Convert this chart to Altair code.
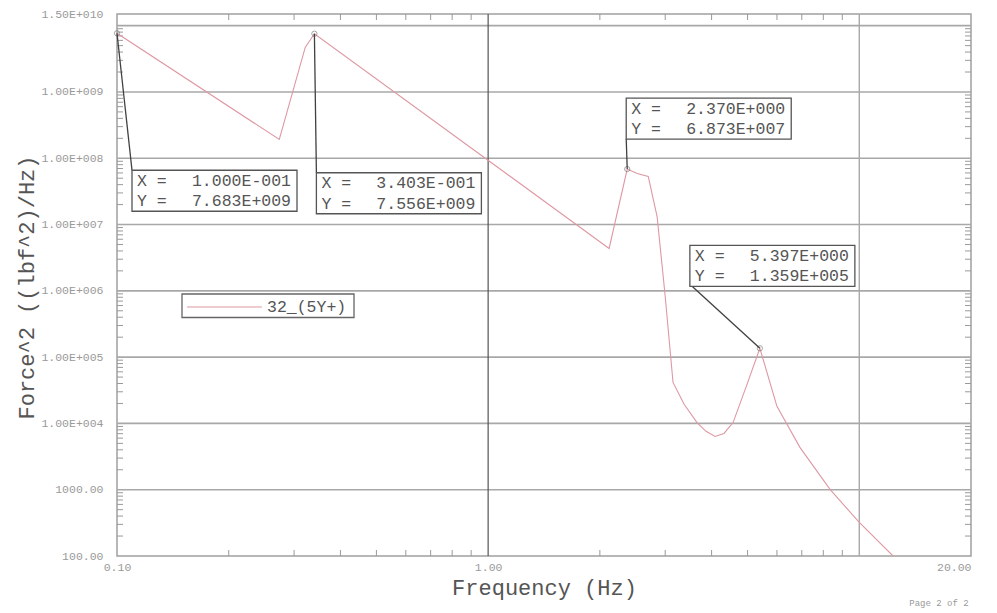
import altair as alt
import pandas as pd

# ---- data -------------------------------------------------------------
series_name = "32_(5Y+)"

freq_hz = [0.1, 0.2737, 0.3215, 0.3403, 2.118, 2.370, 2.52, 2.70, 2.853,
           3.00, 3.149, 3.373, 3.655, 3.865, 4.087, 4.32, 4.57, 4.95,
           5.397, 6.00, 6.92, 8.34, 10.0, 12.33]
force_psd = [7.683e9, 1.92e8, 4.69e9, 7.556e9, 4.36e6, 6.873e7, 5.9e7, 5.31e7, 1.32e7,
             8.2e5, 4.15e4, 1.94e4, 1.03e4, 7.6e3, 6.37e3, 7.06e3, 1.03e4, 3.49e4,
             1.359e5, 1.81e4, 4.35e3, 1.01e3, 321.0, 100.0]

peak_freq = [0.1, 0.3403, 2.370, 5.397]
peak_psd = [7.683e9, 7.556e9, 6.873e7, 1.359e5]
peak_x_text = ["1.000E-001", "3.403E-001", "2.370E+000", "5.397E+000"]
peak_y_text = ["7.683E+009", "7.556E+009", "6.873E+007", "1.359E+005"]

x_tick_values = [0.1, 1.0, 20.0]
x_tick_labels = ["0.10", "1.00", "20.00"]
y_tick_values = [100.0, 1000.0, 1e4, 1e5, 1e6, 1e7, 1e8, 1e9, 1.5e10]
y_tick_labels = ["100.00", "1000.00", "1.00E+004", "1.00E+005", "1.00E+006",
                 "1.00E+007", "1.00E+008", "1.00E+009", "1.50E+010"]

h_grid = [1e3, 1e4, 1e5, 1e6, 1e7, 1e8, 1e9, 1e10]
v_grid_major = [1.0]
v_grid_minor = [10.0]

# ---- layout / style ---------------------------------------------------
W, H = 854, 542
FONT = "Liberation Mono"
PINK = "#de98a3"
INK = "#555555"
LIGHT = "#a8a8a8"

# callout box placement, pixel offsets from the marked point:
# (box left, box top, leader end x, leader end y)
callouts = [
    (15, 137, 15, 137),
    (2, 139, 2, 139),
    (-1, -71, -1, -30),
    (-70, -103, -70, -64),
]
BOX_W, BOX_H = 165, 41

xs = alt.Scale(type="log", domain=[0.1, 20], nice=False)
ys = alt.Scale(type="log", domain=[100, 1.5e10], nice=False)


def label_expr(values, labels):
    expr = "''"
    for v, lab in reversed(list(zip(values, labels))):
        expr = f"(abs(datum.value - {v!r}) < {v * 1e-6!r} ? '{lab}' : {expr})"
    return expr


x_axis = alt.Axis(
    values=x_tick_values, labelExpr=label_expr(x_tick_values, x_tick_labels),
    grid=False, domain=False, ticks=False,
    labelFont=FONT, labelFontSize=11.5, labelColor="#9a9a9a", labelPadding=5,
    labelAlign={"condition": {"test": "datum.value > 10", "value": "right"}, "value": "center"},
    labelFlush=False, labelOverlap=False,
    title="Frequency (Hz)", titleFont=FONT, titleFontSize=22, titleFontWeight="normal",
    titleColor=INK, titleY=31, titleBaseline="middle",
)
y_axis = alt.Axis(
    values=y_tick_values, labelExpr=label_expr(y_tick_values, y_tick_labels),
    grid=False, domain=False, ticks=False,
    labelFont=FONT, labelFontSize=11.5, labelColor="#9a9a9a", labelPadding=14,
    labelBaseline="middle", labelFlush=False, labelOverlap=False,
    title="Force^2 ((lbf^2)/Hz)", titleFont=FONT, titleFontSize=22, titleFontWeight="normal",
    titleColor=INK, titleX=-91, titleY=273, titleAngle=-90, titleBaseline="middle",
    titleAlign="center",
)

X = alt.X("freq:Q", scale=xs, axis=x_axis)
Y = alt.Y("psd:Q", scale=ys, axis=y_axis)
X2 = alt.X2("freq")
Y2 = alt.Y2("psd")

layers = []

# decade grid
hgrid_df = pd.DataFrame({"psd": h_grid})
layers.append(alt.Chart(hgrid_df).mark_rule(color=LIGHT, strokeWidth=1.6).encode(
    y=Y, x=alt.value(0), x2=alt.value(W)))
layers.append(alt.Chart(pd.DataFrame({"freq": v_grid_major})).mark_rule(
    color="#555555", strokeWidth=1.2).encode(x=X, y=alt.value(0), y2=alt.value(H)))
layers.append(alt.Chart(pd.DataFrame({"freq": v_grid_minor})).mark_rule(
    color=LIGHT, strokeWidth=1.4).encode(x=X, y=alt.value(0), y2=alt.value(H)))

# inward minor ticks on all four edges
y_minor = [m * 10 ** k for k in range(2, 10) for m in range(2, 10)]
x_minor = [m * 10 ** k for k in range(-1, 2) for m in range(2, 10) if m * 10 ** k < 20]
ym_df = pd.DataFrame({"psd": y_minor})
xm_df = pd.DataFrame({"freq": x_minor})
TICK = 6
for a, b in [(0, TICK), (W - TICK, W)]:
    layers.append(alt.Chart(ym_df).mark_rule(color="#9a9a9a", strokeWidth=1).encode(
        y=Y, x=alt.value(a), x2=alt.value(b)))
for a, b in [(H - TICK, H), (0, TICK)]:
    layers.append(alt.Chart(xm_df).mark_rule(color="#9a9a9a", strokeWidth=1).encode(
        x=X, y=alt.value(a), y2=alt.value(b)))

# the response curve
curve_df = pd.DataFrame({"freq": freq_hz, "psd": force_psd})
layers.append(alt.Chart(curve_df).mark_line(color=PINK, strokeWidth=1.1, clip=True).encode(
    x=X, y=Y))

# marked peaks with callout boxes
peaks_df = pd.DataFrame({"freq": peak_freq, "psd": peak_psd})
layers.append(alt.Chart(peaks_df).mark_point(
    shape="circle", size=28, filled=False, color="#808080", strokeWidth=1).encode(x=X, y=Y))

for i, (bx, by, lx, ly) in enumerate(callouts):
    row = pd.DataFrame({
        "freq": [peak_freq[i]], "psd": [peak_psd[i]],
        "xv": [peak_x_text[i]], "yv": [peak_y_text[i]],
        "xk": ["X ="], "yk": ["Y ="],
    })
    base = alt.Chart(row)
    layers.append(base.mark_rule(color="#404040", strokeWidth=1.3,
                                 x2Offset=lx, y2Offset=ly).encode(x=X, y=Y, x2=X2, y2=Y2))
    layers.append(base.mark_rect(fill="white", stroke=INK, strokeWidth=1.3,
                                 xOffset=bx, x2Offset=bx + BOX_W,
                                 yOffset=by, y2Offset=by + BOX_H).encode(x=X, y=Y, x2=X2, y2=Y2))
    for key, val, dy in [("xk", "xv", 10.5), ("yk", "yv", 31)]:
        layers.append(base.mark_text(font=FONT, fontSize=16.5, color=INK, align="left",
                                     baseline="middle", xOffset=bx + 5, yOffset=by + dy).encode(
            x=X, y=Y, text=f"{key}:N"))
        layers.append(base.mark_text(font=FONT, fontSize=16.5, color=INK, align="right",
                                     baseline="middle", xOffset=bx + BOX_W - 6,
                                     yOffset=by + dy).encode(
            x=X, y=Y, text=f"{val}:N"))

# legend box
leg = alt.Chart(pd.DataFrame({"name": [series_name]}))
layers.append(leg.mark_rect(fill="white", stroke="#666666", strokeWidth=1.3).encode(
    x=alt.value(65), x2=alt.value(237), y=alt.value(280), y2=alt.value(303.5)))
layers.append(leg.mark_rule(color=PINK, strokeWidth=1.2).encode(
    x=alt.value(70), x2=alt.value(145), y=alt.value(293)))
layers.append(leg.mark_text(font=FONT, fontSize=16.5, color=INK, align="left",
                            baseline="middle").encode(
    x=alt.value(150), y=alt.value(292.5), text="name:N"))

# page footer
layers.append(alt.Chart(pd.DataFrame({"t": ["Page 2 of 2"]})).mark_text(
    font=FONT, fontSize=9, color="#9a9a9a", align="center", baseline="middle").encode(
    x=alt.value(822), y=alt.value(589), text="t:N"))

chart = alt.layer(*layers).properties(
    width=W, height=H,
    autosize=alt.AutoSizeParams(type="none"),
    padding={"left": 117, "top": 14, "right": 997 - 117 - W, "bottom": 613 - 14 - H},
    background="white",
).configure_view(stroke="#a0a0a0", strokeWidth=1.5)

chart.save("out.html", embed_options={"renderer": "svg", "actions": False})
